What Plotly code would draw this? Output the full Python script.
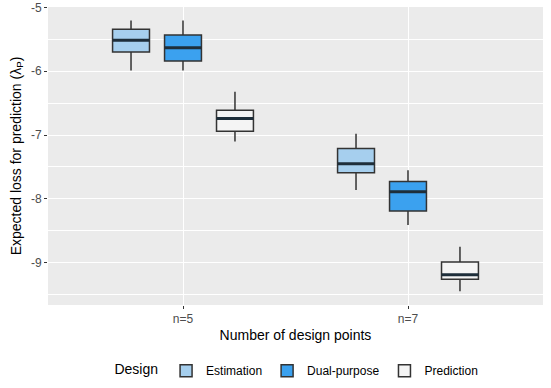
import plotly.graph_objects as go

categories = ["n=5", "n=7"]
designs = ["Estimation", "Dual-purpose", "Prediction"]
fills = ["#A6CFEE", "#3BA1EF", "#F4F4F4"]
y_ticks = [-5, -6, -7, -8, -9]
y_ticklabels = ["-5", "-6", "-7", "-8", "-9"]

# box statistics per design, one entry per category
lower = {"Estimation": [-5.99, -7.86], "Dual-purpose": [-5.99, -8.41], "Prediction": [-7.10, -9.45]}
q1 = {"Estimation": [-5.70, -7.59], "Dual-purpose": [-5.84, -8.19], "Prediction": [-6.94, -9.26]}
median = {"Estimation": [-5.515, -7.45], "Dual-purpose": [-5.63, -7.89], "Prediction": [-6.74, -9.19]}
q3 = {"Estimation": [-5.34, -7.21], "Dual-purpose": [-5.43, -7.73], "Prediction": [-6.61, -8.99]}
upper = {"Estimation": [-5.205, -6.98], "Dual-purpose": [-5.205, -7.55], "Prediction": [-6.32, -8.75]}

fig = go.Figure()
for d, c in zip(designs, fills):
    fig.add_trace(go.Box(
        x=categories, name=d, offsetgroup=d,
        q1=q1[d], median=median[d], q3=q3[d],
        lowerfence=lower[d], upperfence=upper[d],
        fillcolor=c, line=dict(color="#333333", width=1.5),
        whiskerwidth=0, hoverinfo="skip",
    ))
# thicker median bars drawn on top (ggplot style)
for d in designs:
    fig.add_trace(go.Box(
        x=categories, name=d, offsetgroup=d, showlegend=False,
        q1=median[d], median=median[d], q3=median[d],
        lowerfence=median[d], upperfence=median[d],
        fillcolor="rgba(0,0,0,0)", line=dict(color="#1E2E3A", width=3),
        whiskerwidth=0, hoverinfo="skip",
    ))

fig.update_layout(
    width=551, height=388,
    margin=dict(l=48, r=8, t=7, b=83, autoexpand=False),
    paper_bgcolor="white", plot_bgcolor="#EBEBEB",
    font=dict(family="Liberation Sans, Arial, sans-serif", size=12, color="#4D4D4D"),
    boxmode="group", boxgap=0.307, boxgroupgap=0.29,
    showlegend=True,
    legend=dict(
        orientation="h", x=0.505, xanchor="center", y=-0.172, yanchor="top",
        title=dict(text="Design", font=dict(size=14, color="black"), side="left"),
        font=dict(size=12, color="black"),
    ),
    xaxis=dict(
        title=dict(text="Number of design points", font=dict(size=14, color="black"), standoff=4),
        range=[-0.6, 1.6], showgrid=True, gridcolor="white", gridwidth=1.2,
        ticks="outside", ticklen=3, tickcolor="#333333", zeroline=False, automargin=False,
    ),
    yaxis=dict(
        title=dict(text="Expected loss for prediction (λ<sub>P</sub>)", font=dict(size=14, color="black"), standoff=6),
        range=[-9.664, -4.993], tickvals=y_ticks, ticktext=y_ticklabels,
        showgrid=True, gridcolor="white", gridwidth=1.2,
        minor=dict(tickvals=[-5.5, -6.5, -7.5, -8.5, -9.5], showgrid=True, gridcolor="white", gridwidth=0.6),
        ticks="outside", ticklen=3, tickcolor="#333333", zeroline=False, automargin=False,
    ),
)

# drop the browser's default body margin so the figure sits at the page corner
fig.write_html("out.html", config={"displayModeBar": False},
               post_script="document.body.style.margin='0';")
